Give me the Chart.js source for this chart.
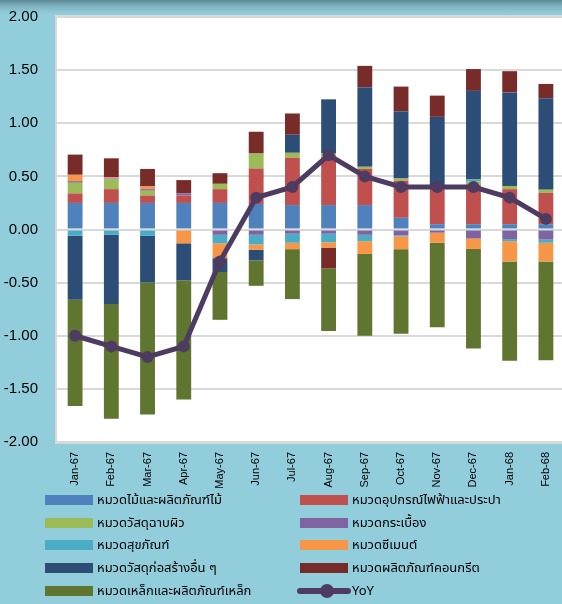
<!DOCTYPE html>
<html>
<head>
<meta charset="utf-8">
<script src="https://cdn.jsdelivr.net/npm/chart.js@4.4.1/dist/chart.umd.min.js"></script>
<style>
  html, body { margin: 0; padding: 0; }
  body {
    width: 562px; height: 604px; overflow: hidden; position: relative;
    background: linear-gradient(to bottom, #5b8796 0px, #7fb2c1 6px, #92cddc 14px, #92cddc 100%);
    font-family: Tahoma, "Noto Sans Thai", "Leelawadee UI", "DejaVu Sans", sans-serif;
  }
  #wrap { position: absolute; left: 0; top: 0; width: 570px; height: 604px; }
  .lg { position: absolute; height: 20px; font-size: 13px; color: #000; white-space: nowrap; }
  .lg .sw { position: absolute; left: 0; top: 5px; width: 48px; height: 10px; }
  .lg .tx { position: absolute; left: 52px; top: 0; line-height: 20px; }
  .lg .ln { position: absolute; left: 0; top: 7px; width: 54px; height: 6px; border-radius: 3px; }
  .lg .dot { position: absolute; left: 20px; top: 3px; width: 14px; height: 14px; border-radius: 7px; }
</style>
</head>
<body>
<div id="wrap"><canvas id="myChart" width="570" height="604"></canvas></div>
<div id="legend"></div>
<script>
var months = ['Jan-67', 'Feb-67', 'Mar-67', 'Apr-67', 'May-67', 'Jun-67', 'Jul-67',
    'Aug-67', 'Sep-67', 'Oct-67', 'Nov-67', 'Dec-67', 'Jan-68', 'Feb-68'];

var wood = [0.25, 0.25, 0.25, 0.25, 0.25, 0.24, 0.23, 0.23, 0.23, 0.11, 0.05, 0.05, 0.05, 0.05];
var electric = [0.09, 0.13, 0.07, 0.07, 0.13, 0.335, 0.445, 0.455, 0.34, 0.35, 0.35, 0.37, 0.33, 0.295];
var coating = [0.10, 0.09, 0.045, 0, 0.05, 0.14, 0.047, 0.03, 0.02, 0.02, 0, 0.035, 0.03, 0.03];
var tiles = [0.015, 0.01, 0.015, 0.02, -0.05, -0.05, -0.04, -0.04, -0.05, -0.055, -0.03, -0.085, -0.09, -0.095];
var sanitary = [-0.06, -0.05, -0.06, 0, -0.08, -0.09, -0.085, -0.08, -0.06, -0.01, 0, 0.015, -0.02, -0.03];
var cement = [0.06, 0.01, 0.025, -0.13, -0.14, -0.05, -0.06, -0.05, -0.12, -0.12, -0.095, -0.098, -0.19, -0.175];
var otherMat = [-0.60, -0.65, -0.44, -0.35, -0.13, -0.10, 0.17, 0.51, 0.75, 0.63, 0.66, 0.835, 0.88, 0.86];
var concrete = [0.19, 0.18, 0.165, 0.125, 0.10, 0.205, 0.20, -0.195, 0.20, 0.235, 0.20, 0.205, 0.20, 0.135];
var steel = [-1.0, -1.08, -1.24, -1.12, -0.45, -0.24, -0.47, -0.59, -0.77, -0.795, -0.795, -0.937, -0.935, -0.93];
var yoy = [-1.0, -1.1, -1.2, -1.1, -0.3, 0.3, 0.4, 0.7, 0.5, 0.4, 0.4, 0.4, 0.3, 0.1];

var yTicks = [-2, -1.5, -1, -0.5, 0, 0.5, 1, 1.5, 2];

var barSeries = [
    { label: 'หมวดไม้และผลิตภัณฑ์ไม้', data: wood, color: '#4f81bd' },
    { label: 'หมวดอุปกรณ์ไฟฟ้าและประปา', data: electric, color: '#c0504d' },
    { label: 'หมวดวัสดุฉาบผิว', data: coating, color: '#9bbb59' },
    { label: 'หมวดกระเบื้อง', data: tiles, color: '#8064a2' },
    { label: 'หมวดสุขภัณฑ์', data: sanitary, color: '#4bacc6' },
    { label: 'หมวดซีเมนต์', data: cement, color: '#f79646' },
    { label: 'หมวดวัสดุก่อสร้างอื่น ๆ', data: otherMat, color: '#2c4d75' },
    { label: 'หมวดผลิตภัณฑ์คอนกรีต', data: concrete, color: '#772c2a' },
    { label: 'หมวดเหล็กและผลิตภัณฑ์เหล็ก', data: steel, color: '#5f7530' }
];
var yoyColor = '#4d3b62';

var datasets = barSeries.map(function (s) {
    return {
        type: 'bar',
        label: s.label,
        data: s.data,
        backgroundColor: s.color,
        borderWidth: 0,
        barPercentage: 0.41,
        categoryPercentage: 1.0,
        order: 1
    };
});
datasets.push({
    type: 'line',
    label: 'YoY',
    data: yoy,
    stack: 'yoy',
    borderColor: yoyColor,
    backgroundColor: yoyColor,
    borderWidth: 5,
    pointRadius: 6,
    pointBackgroundColor: yoyColor,
    pointBorderWidth: 0,
    tension: 0,
    order: 0
});

// white plot area with thin grey frame
var plotBg = {
    id: 'plotBg',
    beforeDraw: function (chart) {
        var a = chart.chartArea, c = chart.ctx;
        c.save();
        c.fillStyle = '#ffffff';
        c.fillRect(a.left, a.top, a.right - a.left, a.bottom - a.top);
        c.strokeStyle = '#d9d9d9';
        c.lineWidth = 2;
        c.strokeRect(a.left - 1, a.top - 1, a.right - a.left + 2, a.bottom - a.top + 2);
        c.restore();
    }
};

window.onload = (function () {
    'use strict'

    var ctx = document.getElementById('myChart');
    // eslint-disable-next-line no-unused-vars
    var myChart = new Chart(ctx, {
        data: { labels: months, datasets: datasets },
        options: {
            responsive: false,
            animation: false,
            layout: { padding: { top: 17, right: 0, left: 0, bottom: 0 } },
            plugins: { legend: { display: false }, tooltip: { enabled: false } },
            scales: {
                x: {
                    stacked: true,
                    grid: { display: false, drawTicks: false },
                    border: { display: false },
                    ticks: {
                        minRotation: 90, maxRotation: 90, padding: 10,
                        color: '#000', font: { family: 'Liberation Sans', size: 11 }
                    },
                    afterFit: function (scale) { scale.height = 162; }
                },
                y: {
                    stacked: true,
                    min: -2, max: 2,
                    afterBuildTicks: function (scale) {
                        scale.ticks = yTicks.map(function (v) { return { value: v }; });
                    },
                    grid: { color: '#d9d9d9', lineWidth: 2, drawTicks: false },
                    border: { display: false },
                    ticks: {
                        padding: 19, color: '#000',
                        font: { family: 'Liberation Sans', size: 15 },
                        callback: function (v) { return v.toFixed(2); }
                    },
                    afterFit: function (scale) {
                        scale.width = 57;
                        // tick padding would otherwise push the plot down
                        scale.paddingTop = 0;
                        scale.paddingBottom = 0;
                    }
                }
            }
        },
        plugins: [plotBg]
    });

    // legend in two columns like the original
    var leg = document.getElementById('legend');
    var items = barSeries.map(function (s) { return { label: s.label, color: s.color }; });
    items.push({ label: 'YoY', color: yoyColor, line: true });
    items.forEach(function (it, i) {
        var col = i % 2, row = Math.floor(i / 2);
        var d = document.createElement('div');
        d.className = 'lg';
        d.style.left = (col ? 300 : 45) + 'px';
        d.style.top = (490 + row * 22.7) + 'px';
        if (it.line) {
            d.innerHTML = '<span class="ln" style="background:' + it.color + ';left:-3px"></span>' +
                '<span class="dot" style="background:' + it.color + '"></span>' +
                '<span class="tx">' + it.label + '</span>';
        } else {
            d.innerHTML = '<span class="sw" style="background:' + it.color + '"></span>' +
                '<span class="tx">' + it.label + '</span>';
        }
        leg.appendChild(d);
    });
}());
</script>
</body>
</html>
